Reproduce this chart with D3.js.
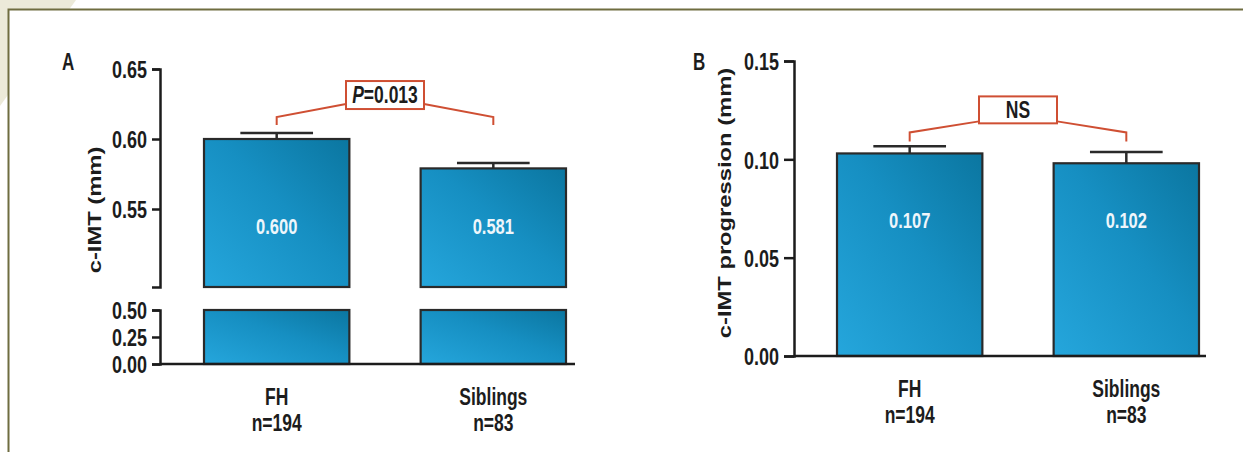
<!DOCTYPE html>
<html lang="en">
<head>
    <meta charset="utf-8">
    <title>c-IMT FH vs Siblings</title>
    <style type="text/css">
        body { margin: 0; background: #fff; }
        svg { display: block; }
    </style>
</head>
<body>
   <svg class="chart" width="1243" height="452"></svg>

   <script src="https://cdn.jsdelivr.net/npm/d3@7"></script>
   <script>
        // data
        var categories = ['FH', 'Siblings'];
        var groupSizes = ['n=194', 'n=83'];

        // panel A: c-IMT (mm)
        var imtMean  = [0.600, 0.579];
        var imtUpper = [0.6043, 0.5829];   // top of error bar
        var imtText  = ['0.600', '0.581'];
        var imtTicksTop = [0.55, 0.60, 0.65];
        var imtTicksLow = [0.00, 0.25, 0.50];
        var imtPText = '=0.013';

        // panel B: c-IMT progression (mm)
        var progMean  = [0.103, 0.098];
        var progUpper = [0.1066, 0.1037];
        var progText  = ['0.107', '0.102'];
        var progTicks = [0.00, 0.05, 0.10, 0.15];

        // styles
        var FONT = '"Liberation Sans", Arial, sans-serif';
        var K = 1.36;           // the figure is stretched vertically
        var INK = '#1c1c1c';
        var RED = '#cf4f33';

        var svg = d3.select('.chart');
        var fmt = d3.format('.2f');

        // background + frame
        svg.append('polygon')
            .attr('points', '0,0 76,0 0,106')
            .attr('fill', '#ecead9');
        svg.append('rect')
            .attr('x', 9).attr('y', 10).attr('width', 1234).attr('height', 442)
            .attr('fill', '#fff');
        svg.append('path')
            .attr('d', 'M8.5,452V9.5H1243')
            .attr('fill', 'none').attr('stroke', '#6f6d40').attr('stroke-width', 2);

        // gradient fill of the bars
        var grad = svg.append('defs').append('linearGradient')
            .attr('id', 'barGrad')
            .attr('x1', 0).attr('y1', 1).attr('x2', 1).attr('y2', 0);
        grad.append('stop').attr('offset', '0%').attr('stop-color', '#25a6dc');
        grad.append('stop').attr('offset', '55%').attr('stop-color', '#168fc2');
        grad.append('stop').attr('offset', '100%').attr('stop-color', '#0b76a0');

        // text helper, stretched like the original
        function label(g, x, y, txt, size, anchor, color, weight) {
            return g.append('text')
                .attr('transform', 'translate(' + x + ',' + y + ') scale(1,' + K + ')')
                .attr('text-anchor', anchor || 'middle')
                .attr('font-family', FONT)
                .attr('font-size', size)
                .attr('font-weight', weight || 'bold')
                .attr('fill', color || INK)
                .text(txt);
        }

        function styleAxis(sel) {
            sel.attr('font-size', null).attr('font-family', null);
            sel.selectAll('path, line').attr('stroke', INK).attr('stroke-width', 2.5);
            sel.selectAll('text')
                .attr('transform', 'scale(1,' + K + ')')
                .attr('dy', '0.36em')
                .attr('font-family', FONT)
                .attr('font-size', 18)
                .attr('font-weight', 'bold')
                .attr('fill', INK);
        }

        function drawBars(g, x, y, base, tops) {
            g.selectAll(null)
                .data(tops)
                .enter()
                .append('rect')
                .attr('x', function(d, i) { return x(categories[i]); })
                .attr('width', x.bandwidth())
                .attr('y', function(d) { return y(d); })
                .attr('height', function(d) { return y(base) - y(d); })
                .attr('fill', 'url(#barGrad)')
                .attr('stroke', '#2a2a2a')
                .attr('stroke-width', 2.2);
        }

        function drawErrors(g, x, y, means, uppers) {
            var cx = function(i) { return x(categories[i]) + x.bandwidth() / 2; };
            var cw = x.bandwidth() / 4;
            var e = g.selectAll(null).data(uppers).enter().append('g')
                .attr('stroke', '#2a2a2a').attr('stroke-width', 2.5);
            e.append('line')
                .attr('x1', function(d, i) { return cx(i); })
                .attr('x2', function(d, i) { return cx(i); })
                .attr('y1', function(d, i) { return y(means[i]); })
                .attr('y2', function(d) { return y(d); });
            e.append('line')
                .attr('x1', function(d, i) { return cx(i) - cw; })
                .attr('x2', function(d, i) { return cx(i) + cw; })
                .attr('y1', function(d) { return y(d); })
                .attr('y2', function(d) { return y(d); });
        }

        // significance bracket: legs at the two bar centres, box in the middle
        function drawBracket(g, x, y, lv) {
            var c0 = x(categories[0]) + x.bandwidth() / 2,
                c1 = x(categories[1]) + x.bandwidth() / 2,
                mid = (c0 + c1) / 2, bw = 78;
            g.append('path')
                .attr('d', 'M' + c0 + ',' + y(lv.foot) + 'V' + y(lv.elbow) +
                           'L' + (mid - bw / 2) + ',' + y(lv.join) +
                           'M' + (mid + bw / 2) + ',' + y(lv.join) +
                           'L' + c1 + ',' + y(lv.elbow) + 'V' + y(lv.foot))
                .attr('fill', 'none').attr('stroke', RED).attr('stroke-width', 2);
            g.append('rect')
                .attr('x', mid - bw / 2).attr('y', y(lv.top))
                .attr('width', bw).attr('height', y(lv.bottom) - y(lv.top))
                .attr('fill', '#fff').attr('stroke', RED).attr('stroke-width', 2);
            return (y(lv.top) + y(lv.bottom)) / 2;
        }

        function drawCategoryLabels(g, x, baseY) {
            categories.forEach(function(c, i) {
                var cx = x(c) + x.bandwidth() / 2;
                label(g, cx, baseY + 41, c, 17.5);
                label(g, cx, baseY + 67, groupSizes[i], 17.5);
            });
        }

        // ---------------- panel A ----------------
        var gA = svg.append('g');
        var axA = 160;
        var xA = d3.scaleBand().domain(categories).range([204, 566])
            .paddingInner(0.329).paddingOuter(0);

        var yTop = d3.scaleLinear().domain([0.55, 0.65]).range([209, 69]);
        yTop.domain([yTop.invert(287), 0.65]).range([287, 69]);
        var yLow = d3.scaleLinear().domain([0, 0.5]).range([364, 310]);

        drawBars(gA, xA, yTop, yTop.domain()[0], imtMean);
        drawBars(gA, xA, yLow, 0, [0.5, 0.5]);
        drawErrors(gA, xA, yTop, imtMean, imtUpper);

        gA.append('g')
            .attr('transform', 'translate(' + axA + ',0)')
            .call(d3.axisLeft(yTop).tickValues(imtTicksTop).tickFormat(fmt)
                .tickSize(8).tickSizeOuter(8).tickPadding(5))
            .call(styleAxis);
        gA.append('g')
            .attr('transform', 'translate(' + axA + ',0)')
            .call(d3.axisLeft(yLow).tickValues(imtTicksLow).tickFormat(fmt)
                .tickSize(8).tickSizeOuter(8).tickPadding(5))
            .call(styleAxis);
        gA.append('line')
            .attr('x1', axA).attr('x2', 575)
            .attr('y1', yLow(0)).attr('y2', yLow(0))
            .attr('stroke', INK).attr('stroke-width', 2.5);

        imtText.forEach(function(t, i) {
            label(gA, xA(categories[i]) + xA.bandwidth() / 2, yTop(0.5325), t, 16.5, 'middle', '#eef6fb');
        });

        var pMid = drawBracket(gA, xA, yTop,
            {top: 0.6414, bottom: 0.6214, join: 0.625, elbow: 0.6157, foot: 0.61});
        var pc = (xA('FH') + xA('Siblings') + xA.bandwidth()) / 2;
        var pt = gA.append('text')
            .attr('transform', 'translate(' + pc + ',' + (pMid + 8) + ') scale(1,' + K + ')')
            .attr('text-anchor', 'middle')
            .attr('font-family', FONT).attr('font-size', 17.5)
            .attr('font-weight', 'bold').attr('fill', INK);
        pt.append('tspan').attr('font-style', 'italic').text('P');
        pt.append('tspan').text(imtPText);

        drawCategoryLabels(gA, xA, yLow(0));

        label(gA, 0, 0, 'c-IMT (mm)', 19)
            .attr('transform', 'translate(101,210) scale(1,1.25) rotate(-90)');
        label(gA, 62, 70, 'A', 17, 'start');

        // ---------------- panel B ----------------
        var gB = svg.append('g');
        var axB = 794;
        var xB = d3.scaleBand().domain(categories).range([837, 1199])
            .paddingInner(0.329).paddingOuter(0);
        var yB = d3.scaleLinear().domain([0, 0.15]).range([356, 61]);

        drawBars(gB, xB, yB, 0, progMean);
        drawErrors(gB, xB, yB, progMean, progUpper);

        gB.append('g')
            .attr('transform', 'translate(' + axB + ',0)')
            .call(d3.axisLeft(yB).tickValues(progTicks).tickFormat(fmt)
                .tickSize(10).tickSizeOuter(10).tickPadding(5))
            .call(styleAxis);
        gB.append('line')
            .attr('x1', axB).attr('x2', 1206)
            .attr('y1', yB(0)).attr('y2', yB(0))
            .attr('stroke', INK).attr('stroke-width', 2.5);

        progText.forEach(function(t, i) {
            label(gB, xB(categories[i]) + xB.bandwidth() / 2, yB(0.065), t, 16.5, 'middle', '#eef6fb');
        });

        var nsMid = drawBracket(gB, xB, yB,
            {top: 0.132, bottom: 0.1183, join: 0.1193, elbow: 0.1137, foot: 0.1091});
        label(gB, (xB('FH') + xB('Siblings') + xB.bandwidth()) / 2, nsMid + 8, 'NS', 17.5);

        drawCategoryLabels(gB, xB, yB(0));

        label(gB, 0, 0, 'c-IMT progression (mm)', 19)
            .attr('transform', 'translate(731,203) scale(1,1.25) rotate(-90)');
        label(gB, 693, 70, 'B', 17, 'start');
   </script>
</body>
</html>
